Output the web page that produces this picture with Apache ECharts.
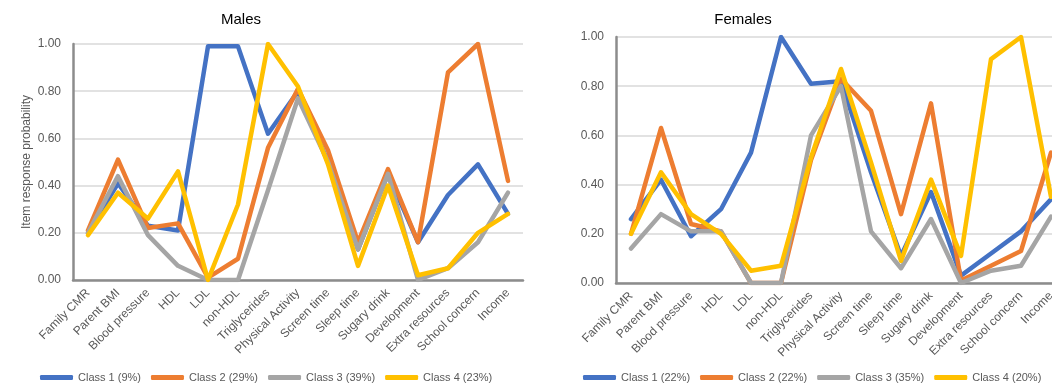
<!DOCTYPE html>
<html>
<head>
<meta charset="utf-8">
<script src="https://cdn.jsdelivr.net/npm/echarts@6/dist/echarts.min.js"></script>
<style>
  html, body { margin: 0; padding: 0; background: #fff; }
  #chart { width: 1052px; height: 386px; }
</style>
</head>
<body>
<div id="chart"></div>
<script>
// item labels, same for both panels
var categories = ['Family CMR', 'Parent BMI', 'Blood pressure', 'HDL', 'LDL', 'non-HDL',
  'Triglycerides', 'Physical Activity', 'Screen time', 'Sleep time', 'Sugary drink',
  'Development', 'Extra resources', 'School concern', 'Income'];

// males
var maleNames = ['Class 1 (9%)', 'Class 2 (29%)', 'Class 3 (39%)', 'Class 4 (23%)'];
var male1 = [0.20, 0.41, 0.23, 0.21, 0.99, 0.99, 0.62, 0.80, 0.50, 0.13, 0.45, 0.16, 0.36, 0.49, 0.28];
var male2 = [0.21, 0.51, 0.22, 0.24, 0.01, 0.09, 0.56, 0.81, 0.55, 0.16, 0.47, 0.16, 0.88, 1.00, 0.42];
var male3 = [0.20, 0.44, 0.19, 0.06, 0.00, 0.00, 0.38, 0.77, 0.50, 0.13, 0.45, 0.00, 0.05, 0.16, 0.37];
var male4 = [0.19, 0.37, 0.26, 0.46, 0.00, 0.32, 1.00, 0.82, 0.49, 0.06, 0.40, 0.02, 0.05, 0.20, 0.28];

// females
var femaleNames = ['Class 1 (22%)', 'Class 2 (22%)', 'Class 3 (35%)', 'Class 4 (20%)'];
var female1 = [0.26, 0.42, 0.19, 0.30, 0.53, 1.00, 0.81, 0.82, 0.45, 0.11, 0.37, 0.03, 0.12, 0.21, 0.34];
var female2 = [0.20, 0.63, 0.24, 0.21, 0.00, 0.00, 0.50, 0.83, 0.70, 0.28, 0.73, 0.01, 0.07, 0.13, 0.53];
var female3 = [0.14, 0.28, 0.21, 0.21, 0.00, 0.00, 0.60, 0.80, 0.21, 0.06, 0.26, 0.00, 0.05, 0.07, 0.27];
var female4 = [0.20, 0.45, 0.28, 0.20, 0.05, 0.07, 0.51, 0.87, 0.49, 0.09, 0.42, 0.11, 0.91, 1.00, 0.35];

var colors = ['#4472C4', '#ED7D31', '#A5A5A5', '#FFC000'];
var font = 'Liberation Sans';

function xAxis(grid) {
  return {
    type: 'category', gridIndex: grid, data: categories, boundaryGap: true,
    axisLine: { lineStyle: { color: '#8c8c8c', width: 2.5 } },
    axisTick: { show: false },
    axisLabel: { interval: 0, rotate: 45, margin: 11, color: '#595959', fontSize: 12, fontFamily: font }
  };
}
function yAxis(grid, withName) {
  return {
    type: 'value', gridIndex: grid, min: 0, max: 1, interval: 0.2,
    name: withName ? 'Item response probability' : '',
    nameLocation: 'middle', nameGap: 40,
    nameTextStyle: { color: '#595959', fontSize: 12, fontFamily: font },
    axisLine: { show: true, lineStyle: { color: '#8c8c8c', width: 2.5 } },
    axisTick: { show: false },
    splitLine: { lineStyle: { color: '#d9d9d9', width: 1.5 } },
    axisLabel: { margin: 12, color: '#595959', fontSize: 12, fontFamily: font,
      formatter: function (v) { return v.toFixed(2); } }
  };
}
function line(name, data, idx, grid) {
  return {
    type: 'line', name: name, data: data, xAxisIndex: grid, yAxisIndex: grid,
    symbol: 'none', color: colors[idx],
    lineStyle: { width: 4.5, color: colors[idx], join: 'round', cap: 'round' }
  };
}
function legend(names, left) {
  return {
    data: names, left: left, top: 367, width: 500, icon: 'roundRect',
    itemWidth: 33, itemHeight: 5, itemGap: 10,
    textStyle: { color: '#595959', fontSize: 11, fontFamily: font }
  };
}

var chart = echarts.init(document.getElementById('chart'));
chart.setOption({
  animation: false,
  title: [
    { text: 'Males', left: 236, top: 7, textAlign: 'center',
      textStyle: { fontSize: 15, fontWeight: 'normal', color: '#000', fontFamily: font } },
    { text: 'Females', left: 738, top: 7, textAlign: 'center',
      textStyle: { fontSize: 15, fontWeight: 'normal', color: '#000', fontFamily: font } }
  ],
  grid: [
    { left: 73, top: 44, width: 450, height: 236, outerBoundsMode: 'none' },
    { left: 616, top: 37, width: 450, height: 246, outerBoundsMode: 'none' }
  ],
  legend: [legend(maleNames, 35), legend(femaleNames, 578)],
  xAxis: [xAxis(0), xAxis(1)],
  yAxis: [yAxis(0, true), yAxis(1, false)],
  series: [
    line(maleNames[0], male1, 0, 0),
    line(maleNames[1], male2, 1, 0),
    line(maleNames[2], male3, 2, 0),
    line(maleNames[3], male4, 3, 0),
    line(femaleNames[0], female1, 0, 1),
    line(femaleNames[1], female2, 1, 1),
    line(femaleNames[2], female3, 2, 1),
    line(femaleNames[3], female4, 3, 1)
  ]
});
</script>
</body>
</html>
